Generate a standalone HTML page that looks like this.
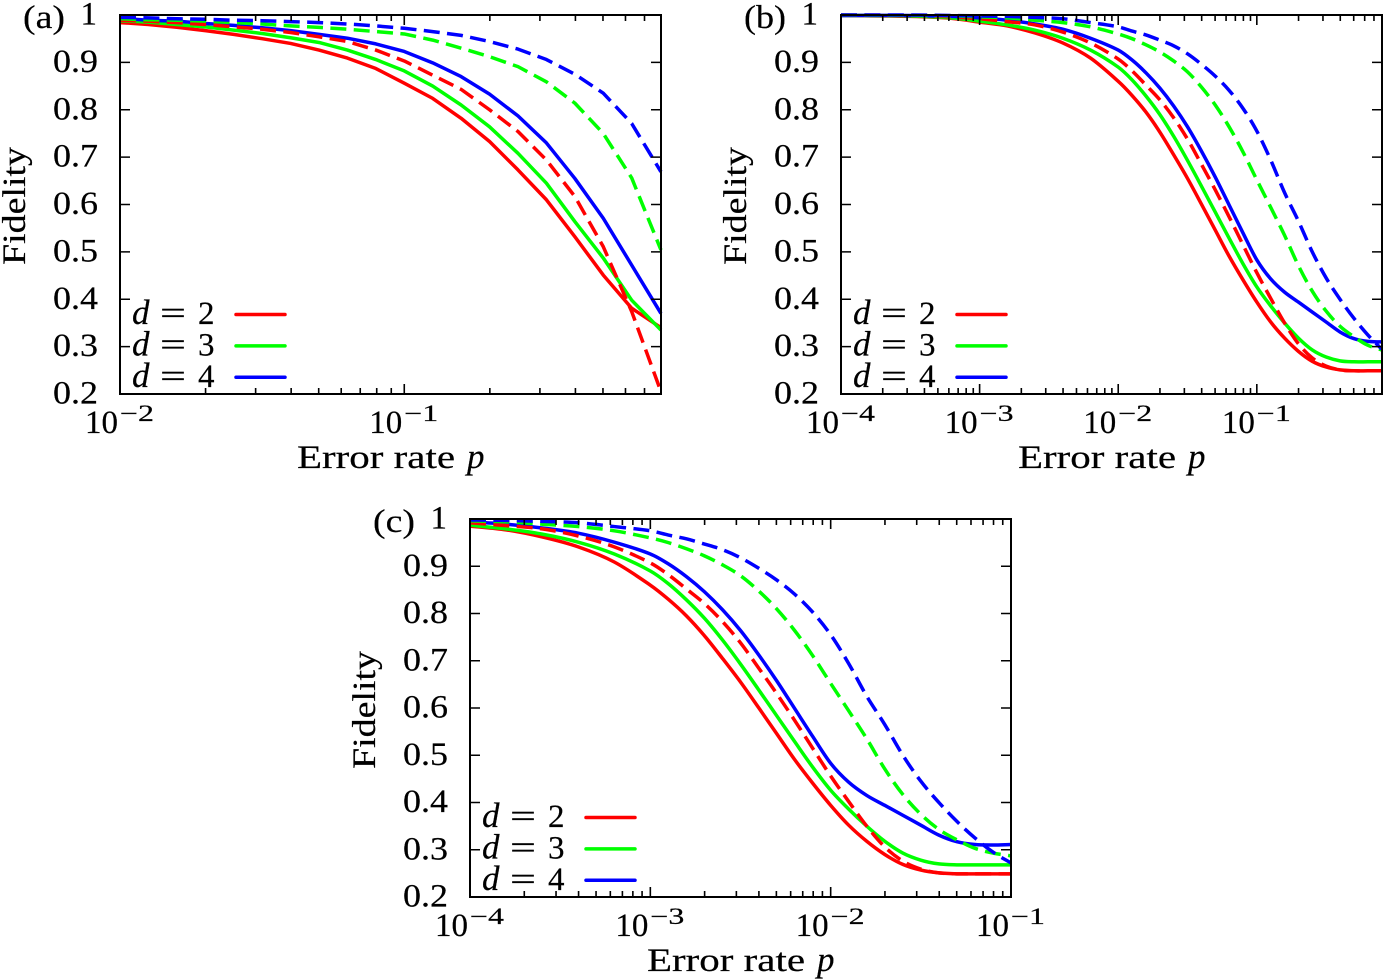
<!DOCTYPE html>
<html lang="en">
<head>
<meta charset="utf-8">
<title>Fidelity versus error rate</title>
<style>
html,body{margin:0;padding:0;background:#fff;}
svg{display:block;}
text{font-family:"Liberation Serif",serif;fill:#000;stroke:#000;stroke-width:.2px;}
</style>
</head>
<body>
<svg id="figure" width="1384" height="979" viewBox="0 0 1384 979" xmlns="http://www.w3.org/2000/svg"></svg>
<script>
// Panel (a) data: log10 of error rate, fidelity by series
const logPA = [-2,-1.9,-1.8,-1.7,-1.6,-1.5,-1.4,-1.3,-1.2,-1.1,-1,-0.9,-0.8,-0.7,-0.6,-0.5,-0.4,-0.3,-0.2,-0.097];
const aD2Solid = [.984,.980,.974,.967,.959,.950,.940,.926,.909,.887,.856,.824,.782,.733,.673,.61,.532,.451,.381,.34];
const aD3Solid = [.988,.985,.980,.975,.968,.961,.952,.942,.926,.906,.882,.85,.81,.764,.708,.645,.564,.487,.398,.335];
const aD4Solid = [.993,.989,.987,.982,.978,.973,.967,.959,.951,.939,.923,.899,.87,.833,.787,.73,.655,.571,.472,.37];
const aD2Dash = [.989,.987,.984,.980,.975,.970,.963,.954,.944,.926,.903,.873,.843,.80,.754,.694,.617,.511,.374,.205];
const aD3Dash = [.992,.990,.989,.987,.984,.981,.977,.974,.970,.965,.96,.947,.93,.912,.891,.859,.814,.75,.656,.504];
const aD4Dash = [.995,.994,.992,.991,.989,.988,.986,.984,.981,.977,.972,.965,.957,.944,.928,.906,.875,.835,.771,.669];

// Panel (b) data
const logPB = [-4,-3.5,-3.2,-3,-2.8,-2.6,-2.4,-2.2,-2,-1.9,-1.8,-1.7,-1.6,-1.5,-1.4,-1.3,-1.2,-1.1,-1,-0.9,-0.8,-0.7,-0.6,-0.5,-0.4,-0.3,-0.2,-0.1];
const bD2Solid = [.999,.997,.993,.985,.977,.962,.941,.909,.860,.830,.795,.753,.705,.655,.601,.546,.491,.441,.394,.352,.318,.29,.269,.257,.251,.249,.249,.249];
const bD3Solid = [.999,.998,.994,.987,.979,.968,.951,.926,.89,.863,.829,.790,.744,.693,.639,.584,.529,.475,.426,.386,.35,.318,.293,.278,.27,.268,.268,.268];
const bD4Solid = [.999,.999,.997,.994,.989,.981,.970,.951,.926,.905,.878,.846,.808,.764,.713,.658,.599,.54,.483,.443,.415,.394,.373,.352,.331,.317,.311,.31];
const bD2Dash = [1,.999,.996,.992,.986,.979,.964,.941,.907,.882,.852,.821,.783,.738,.685,.631,.574,.515,.456,.402,.35,.306,.276,.259,.251,.249,.249,.249];
const bD3Dash = [1,.999,.998,.996,.994,.989,.984,.975,.96,.95,.937,.922,.903,.88,.848,.81,.764,.711,.652,.594,.535,.471,.417,.375,.343,.321,.303,.293];
const bD4Dash = [1,1,.999,.998,.997,.995,.992,.984,.975,.966,.958,.947,.935,.918,.896,.871,.841,.803,.755,.694,.625,.565,.5,.445,.40,.36,.325,.295];

// Panel (c) data
const logPC = [-4,-3.8,-3.6,-3.4,-3.2,-3,-2.9,-2.8,-2.7,-2.6,-2.5,-2.4,-2.3,-2.2,-2.1,-2,-1.9,-1.8,-1.7,-1.6,-1.5,-1.4,-1.3,-1.2,-1.1,-1];
const cD2Solid = [.985,.977,.962,.941,.909,.860,.830,.795,.753,.705,.655,.601,.546,.491,.441,.394,.352,.318,.29,.269,.257,.251,.249,.249,.249,.249];
const cD3Solid = [.987,.979,.968,.951,.926,.89,.863,.829,.790,.744,.693,.639,.584,.529,.475,.426,.386,.35,.318,.293,.278,.27,.268,.268,.268,.268];
const cD4Solid = [.994,.989,.981,.970,.951,.926,.905,.878,.846,.808,.764,.713,.658,.599,.54,.483,.443,.415,.394,.373,.352,.331,.317,.311,.31,.311];
const cD2Dash = [.992,.986,.979,.964,.941,.907,.882,.852,.821,.783,.738,.685,.631,.574,.515,.456,.402,.35,.306,.276,.259,.251,.249,.249,.249,.249];
const cD3Dash = [.996,.994,.989,.984,.975,.96,.95,.937,.922,.903,.88,.848,.81,.764,.711,.652,.594,.535,.471,.417,.375,.343,.321,.303,.293,.287];
const cD4Dash = [.998,.997,.995,.992,.984,.975,.966,.958,.947,.935,.918,.896,.871,.841,.803,.755,.694,.625,.565,.5,.445,.40,.36,.325,.295,.272];

// Tick labels
const yTickValues = [0.2,0.3,0.4,0.5,0.6,0.7,0.8,0.9,1];
const yTickLabels = ["0.2","0.3","0.4","0.5","0.6","0.7","0.8","0.9","1"];
const xDecadesA = [-2,-1];
const xDecadesB = [-4,-3,-2,-1];
const xDecadesC = [-4,-3,-2,-1];
const legendDistances = ["2","3","4"];
const seriesColors = ["#ff0000","#00ff00","#0000ff"];

const NS = "http://www.w3.org/2000/svg";
const root = document.getElementById("figure");

function make(tag, parent, attrs, content) {
  const el = document.createElementNS(NS, tag);
  for (const k in attrs) el.setAttribute(k, attrs[k]);
  if (content !== undefined) el.textContent = content;
  parent.appendChild(el);
  return el;
}

// Straight segments, or a Catmull-Rom spline through the data points
function curvePath(pts, smooth) {
  let d = "M" + pts[0][0].toFixed(2) + " " + pts[0][1].toFixed(2);
  for (let i = 0; i < pts.length - 1; i++) {
    const p1 = pts[i], p2 = pts[i + 1];
    if (!smooth) { d += "L" + p2[0].toFixed(2) + " " + p2[1].toFixed(2); continue; }
    const p0 = pts[Math.max(i - 1, 0)], p3 = pts[Math.min(i + 2, pts.length - 1)];
    const dx = p2[0] - p1[0];
    const s1 = (p2[1] - p0[1]) / (p2[0] - p0[0]);
    const s2 = (p3[1] - p1[1]) / (p3[0] - p1[0]);
    d += "C" + (p1[0] + dx / 3).toFixed(2) + " " + (p1[1] + s1 * dx / 3).toFixed(2) + " "
       + (p2[0] - dx / 3).toFixed(2) + " " + (p2[1] - s2 * dx / 3).toFixed(2) + " "
       + p2[0].toFixed(2) + " " + p2[1].toFixed(2);
  }
  return d;
}

function drawPanel(id, box, domain, logP, solids, dashes, decades, letter, smooth) {
  const g = make("g", root, {});
  
  

  const xScale = L => box.x0 + (box.x1 - box.x0) * (L - domain[0]) / (domain[1] - domain[0]);
  const yScale = v => box.y1 - (box.y1 - box.y0) * (v - 0.2) / 0.8;

  const clip = make("clipPath", g, {id: "clip-" + id});
  make("rect", clip, {x: box.x0 - 0.5, y: box.y0 - 2, width: box.x1 - box.x0 + 2, height: box.y1 - box.y0 + 4});

  // Curves: solid then dashed, red, green, blue
  const curves = make("g", g, {"clip-path": "url(#clip-" + id + ")"});
  
  
  const drawCurve = (values, color, dash, name) => {
    const pts = values.map((v, i) => [xScale(logP[i]), yScale(v)]);
    const line = make("path", curves, {
      d: curvePath(pts, smooth), fill: "none", stroke: color, "stroke-width": 3.5,
      "stroke-linejoin": "round"
    });
    if (dash) line.setAttribute("stroke-dasharray", "16 7.4");
    
    
  };
  solids.forEach((values, i) => drawCurve(values, seriesColors[i], false, 'curve-d' + legendDistances[i] + '-solid-' + id));
  dashes.forEach((values, i) => drawCurve(values, seriesColors[i], true, 'curve-d' + legendDistances[i] + '-dashed-' + id));

  // Frame
  const frame = make("rect", g, {x: box.x0, y: box.y0, width: box.x1 - box.x0, height: box.y1 - box.y0, fill: "none", stroke: "#000", "stroke-width": 2});
  
  

  // Y ticks and labels
  yTickValues.forEach((v, i) => {
    const y = yScale(v);
    const tick = make("path", g, {
      d: "M" + box.x0 + " " + y + "h10M" + box.x1 + " " + y + "h-10",
      stroke: "#000", "stroke-width": 1.6, fill: "none"
    });
    
    
    const label = yTickLabels[i];
    const t = make("text", g, {
      x: box.x0 - 22, y: y + 9.5, "font-size": 33, "text-anchor": "end"
    }, label);
    if (label.length > 1) {
      t.setAttribute("text-anchor", "start");
      t.setAttribute("x", box.x0 - 67);
      t.setAttribute("textLength", 45);
      t.setAttribute("lengthAdjust", "spacingAndGlyphs");
    } else {
      t.setAttribute("x", box.x0 - 23);
    }
    
    
  });

  // X ticks: decades are long, the 2..9 multiples are short
  let tickPath = "";
  for (let d = Math.floor(domain[0]); d < Math.ceil(domain[1]); d++) {
    for (let m = 1; m < 10; m++) {
      const L = d + Math.log10(m);
      if (L < domain[0] - 1e-6 || L > domain[1] + 1e-3) continue;
      const x = xScale(L).toFixed(2);
      const len = m === 1 ? 10 : 6;
      tickPath += "M" + x + " " + box.y1 + "v-" + len + "M" + x + " " + box.y0 + "v" + len;
    }
  }
  if (domain[1] === -1) {
    const x = box.x1;
    tickPath += "M" + x + " " + box.y1 + "v-10M" + x + " " + box.y0 + "v10";
  }
  const xTicks = make("path", g, {d: tickPath, stroke: "#000", "stroke-width": 1.6, fill: "none"});
  
  

  // X tick labels
  decades.forEach(d => {
    const x = xScale(d);
    const base = make("text", g, {x: x - 35, y: box.y1 + 39, "font-size": 33}, "10");
    
    
    const exp = make("text", g, {
      x: x, y: box.y1 + 27, "font-size": 23,
      textLength: 34, lengthAdjust: "spacingAndGlyphs"
    }, "\u2212" + Math.abs(d));
    
    
  });

  // Axis titles
  const xTitle = make("text", g, {x: box.x0 + 177, y: box.y1 + 74, "font-size": 33, textLength: 158, lengthAdjust: "spacingAndGlyphs"}, "Error rate");
  
  
  const xVar = make("text", g, {x: box.x0 + 347, y: box.y1 + 74, "font-size": 35, "font-style": "italic"}, "p");
  
  
  const yTitle = make("text", g, {
    transform: "translate(" + (box.x0 - 95) + " " + (box.y0 + 250) + ") rotate(-90)",
    "font-size": 33, textLength: 118, lengthAdjust: "spacingAndGlyphs"
  }, "Fidelity");
  
  

  // Panel letter
  const tag = make("text", g, {x: box.x0 - 97, y: box.y0 + 13, "font-size": 33, textLength: 42, lengthAdjust: "spacingAndGlyphs"}, "(" + letter + ")");
  
  

  // Legend
  const legend = make("g", g, {});
  
  
  legendDistances.forEach((dist, i) => {
    const base = box.y1 - 70 + i * 31.4;
    const entry = make("g", legend, {});
    
    
    make("text", entry, {x: box.x0 + 12, y: base, "font-size": 35, "font-style": "italic"}, "d");
    make("text", entry, {x: box.x0 + 40, y: base, "font-size": 33, textLength: 26, lengthAdjust: "spacingAndGlyphs"}, "=");
    make("text", entry, {x: box.x0 + 78, y: base, "font-size": 33}, dist);
    const swatch = make("line", entry, {
      x1: box.x0 + 116, x2: box.x0 + 165, y1: base - 9.5, y2: base - 9.5,
      stroke: seriesColors[i], "stroke-width": 3.5, "stroke-linecap": "round"
    });
    
    
  });
}

drawPanel("a", {x0: 120, x1: 661, y0: 15, y1: 394}, [-2, -0.0969], logPA,
  [aD2Solid, aD3Solid, aD4Solid], [aD2Dash, aD3Dash, aD4Dash], xDecadesA, "a", false);
drawPanel("b", {x0: 841, x1: 1382, y0: 15, y1: 394}, [-4, -0.0969], logPB,
  [bD2Solid, bD3Solid, bD4Solid], [bD2Dash, bD3Dash, bD4Dash], xDecadesB, "b", true);
drawPanel("c", {x0: 470, x1: 1011, y0: 519, y1: 897}, [-4, -1], logPC,
  [cD2Solid, cD3Solid, cD4Solid], [cD2Dash, cD3Dash, cD4Dash], xDecadesC, "c", true);
</script>
</body>
</html>
